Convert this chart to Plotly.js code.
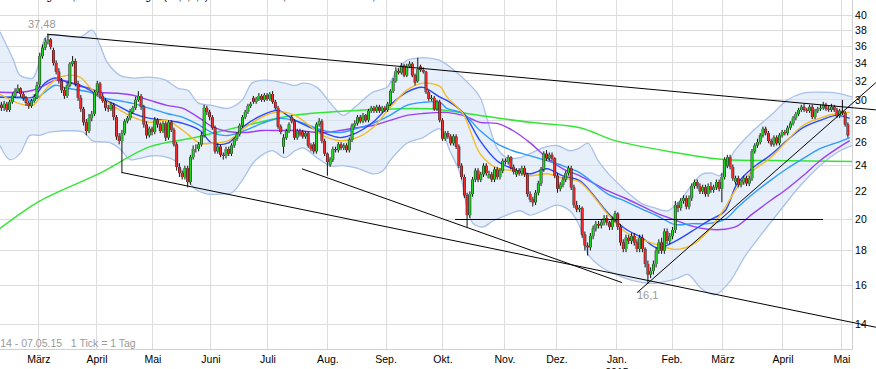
<!DOCTYPE html>
<html><head><meta charset="utf-8">
<script src="https://cdn.plot.ly/plotly-3.0.1.min.js"></script>
<style>html,body{margin:0;padding:0;background:#fff;}#chart{width:876px;height:369px;}</style>
</head><body><div id="chart"></div>
<script>
// ---------- daily candles (trading-day index 0..309) ----------
const open = [
29.5,29.2,29.6,29.0,29.8,30.4,30.9,31.2,30.6,30.2, 29.7,29.4,29.9,30.3,31.6,34.8,35.8,36.5,36.8,35.5,
34.0,33.0,32.0,31.0,30.4,31.5,33.9,34.2,31.7,30.2, 29.1,27.8,27.0,28.2,28.6,30.8,31.7,30.4,29.9,29.2,
29.1,29.5,28.3,26.5,26.1,26.8,27.9,28.2,28.8,29.2, 30.0,30.4,29.3,27.6,26.6,27.2,26.9,28.0,27.6,27.0,
27.7,26.4,27.8,27.1,25.8,23.9,23.4,23.1,23.8,22.7, 24.7,25.4,25.4,25.8,26.6,29.2,28.8,28.3,27.3,25.2,
25.6,24.9,24.8,25.4,25.0,25.7,26.3,26.7,27.5,28.3, 28.8,29.4,30.2,29.8,30.1,30.4,30.0,30.5,30.1,30.6,
29.8,29.2,27.4,25.6,26.4,27.0,28.3,27.9,26.4,27.0, 26.9,26.5,26.8,25.7,25.8,25.2,27.6,27.9,26.1,25.0,
24.1,24.5,25.4,25.3,25.8,25.5,25.7,25.3,26.2,27.5, 27.7,28.3,27.9,28.5,28.0,28.9,29.2,28.9,29.3,28.9,
29.2,29.0,29.6,30.9,32.0,33.1,32.9,33.7,32.6,33.6, 33.9,32.6,32.0,33.6,33.2,33.0,30.8,30.1,30.2,29.1,
29.8,28.0,26.3,26.8,26.5,25.9,26.5,25.6,24.0,23.1, 21.7,20.3,21.8,22.9,23.6,22.9,23.3,24.0,23.0,23.3,
22.9,23.7,23.1,23.6,24.4,24.3,24.7,23.9,23.3,23.6, 23.4,23.8,23.3,21.8,21.4,21.2,21.9,22.6,23.7,25.0,
24.6,24.9,24.6,23.2,22.2,22.5,22.9,23.4,23.8,22.3, 21.0,20.7,20.8,19.0,18.3,18.2,18.9,19.4,19.7,19.6,
19.8,20.1,19.8,19.5,20.0,20.4,19.5,18.5,18.1,18.8, 18.6,18.9,18.5,18.1,18.8,18.1,17.2,16.6,16.8,17.2,
18.0,18.5,18.0,19.2,18.6,18.9,19.3,21.0,20.8,21.3, 21.5,20.9,21.5,22.4,22.7,22.4,22.0,22.3,21.8,22.4,
22.1,22.3,22.7,22.2,23.1,24.0,24.7,23.9,22.7,23.0, 22.5,22.7,23.0,22.6,23.0,25.2,25.7,26.0,26.6,27.2,
26.8,26.1,25.8,26.4,25.9,26.6,26.9,26.8,27.3,27.7, 28.2,28.6,29.0,29.3,29.0,28.9,29.3,28.3,28.9,29.1,
29.2,29.5,29.1,29.0,29.3,29.0,28.4,28.9,28.7,27.6];
const high = [
29.8,29.9,29.8,30.0,30.7,31.2,31.6,31.3,30.8,30.4, 29.9,30.1,30.6,31.9,35.2,36.2,37.0,37.48,37.0,35.8,
34.3,33.4,32.3,31.3,31.8,34.1,34.8,34.5,32.0,30.5, 29.3,28.1,28.6,28.9,31.0,32.0,31.9,30.7,30.2,29.5,
29.8,29.7,28.5,26.8,27.1,28.1,28.4,29.1,29.4,30.3, 30.9,30.6,29.5,27.9,27.4,27.4,28.3,28.2,27.8,27.9,
27.9,28.0,28.0,27.3,26.0,24.2,23.6,24.0,24.0,24.9, 25.7,25.8,26.0,26.9,29.5,29.4,29.0,28.5,27.5,25.9,
25.8,25.1,25.6,25.6,25.9,26.4,26.9,27.7,28.5,29.0, 29.6,29.8,30.4,30.3,30.7,30.6,30.7,30.7,30.8,30.9,
30.0,29.4,27.6,26.7,27.2,27.8,28.5,28.1,27.2,27.2, 27.1,27.0,27.0,25.9,26.0,27.8,28.2,28.1,26.3,25.1,
24.7,25.6,25.6,26.0,26.0,25.9,25.9,26.4,27.7,28.0, 28.5,28.5,28.7,28.6,29.1,29.4,29.4,29.5,29.5,29.4,
29.4,29.8,31.1,32.3,33.5,33.4,34.0,33.9,33.9,34.2, 34.1,32.8,34.6,33.8,33.5,33.1,31.0,30.5,30.4,30.0,
30.0,28.2,27.0,27.0,26.7,26.7,26.7,25.8,24.2,23.3, 21.9,22.0,23.1,23.8,23.8,23.5,24.2,24.2,23.6,23.5,
23.9,23.9,23.8,24.6,24.6,24.9,24.8,24.1,23.8,23.8, 24.0,24.0,23.4,22.0,21.6,22.1,22.8,23.9,25.2,25.3,
25.1,25.1,24.7,23.4,22.7,23.1,23.6,24.0,24.0,22.5, 21.3,21.0,20.9,19.2,18.5,19.1,19.6,19.9,19.9,20.0,
20.3,20.3,19.9,20.2,20.6,20.5,19.7,18.7,19.0,19.0, 19.1,19.1,18.7,19.0,19.0,18.2,17.4,17.0,17.4,18.2,
18.7,18.8,19.4,19.4,19.1,19.5,21.3,21.2,21.5,21.7, 21.7,21.7,22.6,22.9,22.9,22.6,22.5,22.5,22.6,22.7,
22.5,22.9,22.9,23.4,24.7,24.9,24.9,24.1,23.2,23.2, 22.9,23.2,23.2,23.2,25.4,25.9,26.3,26.8,27.4,27.4,
27.0,26.3,26.6,26.6,26.8,27.1,27.1,27.5,27.9,28.4, 28.8,29.2,29.5,29.6,29.2,29.5,29.5,29.1,29.3,29.5,
29.8,29.7,29.4,29.6,29.5,29.2,29.1,30.0,28.9,27.8];
const low = [
28.9,28.9,28.8,28.8,29.6,30.2,30.7,30.3,29.9,29.4, 29.1,29.2,29.7,30.1,31.3,34.5,35.5,36.2,35.6,33.7,
32.7,31.7,30.7,30.1,30.2,31.3,33.6,31.4,29.9,28.8, 27.5,26.6,26.8,27.9,28.4,30.5,30.1,29.7,28.9,28.8,
28.9,28.0,26.2,25.8,23.4,26.6,27.7,28.0,28.6,29.0, 29.8,29.0,27.3,26.3,26.4,26.6,26.7,27.3,26.8,26.8,
26.1,26.2,26.9,25.6,23.6,23.1,22.9,22.9,22.3,22.5, 24.5,25.1,25.2,25.6,26.4,28.5,28.0,27.1,25.0,25.0,
24.7,24.5,24.6,24.8,24.8,25.5,26.1,26.5,27.3,28.1, 28.6,29.2,29.6,29.6,29.9,29.8,29.8,29.9,29.9,29.6,
29.0,27.2,26.7,25.0,26.2,26.8,27.7,26.2,26.2,26.5, 26.3,26.3,25.5,25.2,25.0,25.0,27.4,25.9,24.8,23.2,
23.9,24.3,25.1,25.1,25.3,25.3,25.1,25.1,26.0,27.3, 27.5,27.7,27.7,27.8,27.8,28.7,28.7,28.7,28.7,28.7,
28.8,28.8,29.4,30.7,31.8,32.7,32.7,32.4,32.4,33.4, 32.4,31.5,31.8,33.0,32.8,30.6,29.9,29.9,28.9,28.9,
27.8,26.1,26.1,26.3,25.7,25.7,25.4,23.8,22.9,21.5, 19.5,20.1,21.6,22.7,22.7,22.7,23.1,23.2,23.1,22.7,
22.7,22.9,22.9,23.4,24.1,24.1,23.7,23.3,23.1,23.2, 23.2,23.1,21.6,21.2,20.9,21.0,21.7,22.4,23.5,24.4,
24.4,24.4,23.0,21.9,22.0,22.3,22.7,23.2,22.1,20.8, 20.5,20.5,18.8,18.0,17.7,18.0,18.7,19.2,19.4,19.4,
19.6,19.6,19.3,19.3,19.8,19.3,18.3,17.9,17.9,18.4, 18.4,18.3,17.9,17.9,17.9,17.0,16.1,16.4,16.6,17.0,
17.8,17.8,17.8,18.4,18.4,18.7,19.1,20.5,20.6,21.1, 20.7,20.7,21.3,22.2,22.2,21.8,21.8,21.6,21.6,21.9,
21.9,22.1,22.0,21.2,22.9,23.8,23.7,22.8,22.5,22.3, 22.3,22.5,22.4,22.4,22.8,25.0,25.5,25.8,26.4,26.6,
25.9,25.6,25.6,25.7,25.7,26.4,26.6,26.6,27.1,27.5, 28.0,28.4,28.8,28.8,28.7,28.7,28.1,28.1,28.7,28.9,
29.0,28.9,28.8,28.8,28.8,28.2,28.2,28.5,27.4,26.4];
const close = [
29.2,29.6,29.0,29.8,30.4,30.9,31.2,30.6,30.2,29.7, 29.4,29.9,30.3,31.5,34.8,35.8,36.5,36.8,35.9,34.0,
33.0,32.0,31.0,30.4,31.5,33.9,34.2,31.7,30.2,29.1, 27.8,27.0,28.2,28.6,30.8,31.7,30.4,29.9,29.2,29.1,
29.5,28.3,26.5,26.1,26.8,27.9,28.2,28.8,29.2,30.0, 30.4,29.3,27.6,26.6,27.2,26.9,28.0,27.6,27.0,27.7,
26.4,27.8,27.1,25.8,23.9,23.4,23.1,23.8,22.7,24.7, 25.4,25.4,25.8,26.6,29.2,28.8,28.3,27.3,25.2,25.6,
24.9,24.8,25.4,25.0,25.7,26.3,26.7,27.5,28.3,28.8, 29.4,29.6,29.8,30.1,30.4,30.0,30.5,30.1,30.6,29.8,
29.2,27.4,26.9,26.4,27.0,27.6,27.9,26.4,27.0,26.7, 26.5,26.8,25.7,25.4,25.2,27.6,27.9,26.1,25.0,24.3,
24.5,25.4,25.3,25.8,25.5,25.7,25.3,26.2,27.5,27.7, 28.3,27.9,28.5,28.0,28.9,29.2,28.9,29.3,28.9,29.2,
29.0,29.6,30.9,32.0,33.1,32.9,33.7,32.6,33.6,33.9, 32.6,31.8,33.3,33.2,33.0,30.8,30.1,30.2,29.1,29.8,
28.0,26.3,26.8,26.5,25.9,26.5,25.6,24.0,23.1,21.7, 20.3,21.8,22.9,23.6,22.9,23.3,24.0,23.4,23.3,22.9,
23.7,23.1,23.6,24.4,24.3,24.7,23.9,23.5,23.6,23.4, 23.8,23.3,21.8,21.4,21.2,21.9,22.6,23.7,25.0,24.6,
24.9,24.6,23.2,22.2,22.5,22.9,23.4,23.8,22.3,21.0, 20.7,20.8,19.0,18.3,18.2,18.9,19.4,19.7,19.6,19.8,
20.1,19.8,19.5,20.0,20.4,19.5,18.5,18.1,18.8,18.6, 18.9,18.5,18.1,18.8,18.1,17.2,16.6,16.8,17.2,18.0,
18.5,18.0,19.2,18.6,18.9,19.3,21.0,20.8,21.3,21.5, 20.9,21.5,22.4,22.7,22.4,22.0,22.3,21.8,22.4,22.1,
22.3,22.7,22.2,23.1,24.5,24.7,23.9,23.0,23.0,22.5, 22.7,23.0,22.6,23.0,25.2,25.7,26.0,26.6,27.2,26.8,
26.1,25.8,26.4,25.9,26.6,26.9,26.8,27.3,27.7,28.2, 28.6,29.0,29.3,29.0,28.9,29.3,28.3,28.9,29.1,29.2,
29.5,29.1,29.0,29.3,29.0,28.4,28.9,28.7,27.6,26.6];

// ---------- indicator lines (day index / price) ----------
const maDays = [-0.5,6.8,11.5,15.9,19.6,24.0,28.7,32.3,36.0,42.2,48.0,54.2,60.4,66.3,72.5,76.9,82.7,88.9,95.1,101.0,
107.2,117.4,123.6,129.8,135.6,141.8,148.0,153.9,160.1,162.6,168.5,174.7,180.9,186.7,192.9,199.1,205.0,211.2,221.4,227.6,
233.8,239.6,245.9,252.1,257.9,264.1,268.5,274.3,280.5,286.7,292.6,298.8,305.0,309.7];
const maYellow = [30.57,29.6,29.45,31.0,32.07,32.6,32.4,31.3,30.3,29.15, 28.3,27.8,27.98,27.04,25.9,25.9,26.1,27.3,28.3,28.8,
28.46,26.58,26.13,26.4,27.3,29.2,31.0,31.75,31.4,30.3, 28.65,25.0,23.8,23.6,23.2,23.35,23.0,22.7,20.35,19.2,
18.7,18.35,18.07,18.35,19.2,20.8,22.25,23.6,24.6,26.1, 27.5,28.2,28.65,28.75];
const maBlue = [30.27,30.27,30.27,31.75,32.3,31.85,31.53,31.0,30.27,29.45, 28.65,28.17,27.98,27.7,27.04,25.9,25.9,27.5,28.46,28.95,
27.98,26.85,26.4,26.85,27.8,29.45,30.8,31.3,30.27,29.95, 28.75,26.13,24.41,23.75,23.35,23.75,23.19,22.8,20.45,19.4,
18.8,18.15,18.57,19.22,19.89,20.58,22.56,23.83,24.83,26.13, 27.3,27.98,28.46,28.17];
const maLightBlue = [30.27,30.2,29.95,30.8,31.53,31.2,30.99,30.8,30.27,29.95, 29.65,29.15,28.65,28.27,27.5,26.85,26.58,27.04,27.7,28.17,
27.98,27.04,26.85,27.23,27.7,28.46,29.45,29.75,29.75,29.15, 28.65,27.04,25.86,25.25,24.83,24.41,23.99,23.43,21.8,21.29,
20.72,20.23,19.66,19.72,19.72,20.0,20.79,21.8,22.8,23.75, 24.58,25.43,25.95,26.4];
const maPurple = [30.78,30.78,30.99,31.53,32.07,31.96,31.42,31.2,30.78,30.68, 30.47,29.95,29.45,29.15,28.17,27.4,26.95,26.85,27.04,27.04,
27.04,26.85,27.04,27.3,27.5,27.98,28.46,28.65,28.75,28.75, 28.46,27.8,27.7,27.04,25.95,24.66,23.75,23.19,22.03,21.51,
20.93,20.4,19.96,19.55,19.35,19.35,19.55,20.4,21.29,22.18, 23.19,24.41,25.43,26.13];
const ma200Days = [-0.5,14.1,36.0,54.2,70.7,88.9,107.2,129.8,156.4,174.7,192.9,211.2,224.0,245.9,264.1,287.8,310.5];
const ma200 = [19.4,21.3,23.4,25.6,26.4,27.5,28.5,28.95,29.1,28.46,27.8,27.3,26.13,25.1,24.5,24.41,24.35];

const bbUpperDays = [-0.5,4.2,6.8,11.5,14.1,15.9,18.8,28.7,33.1,36.0,38.6,43.3,48.0,54.2,59.7,64.5,68.1,71.8,76.9,82.7,
87.8,91.5,96.2,103.5,107.2,110.1,115.2,119.9,124.7,129.8,135.6,140.7,144.4,148.0,152.8,157.5,160.1,167.4,174.7,177.2,
180.9,184.5,189.3,192.9,197.7,202.8,207.5,211.2,214.1,217.8,221.4,225.1,228.7,233.8,238.5,243.3,248.4,252.1,255.7,259.4,
262.3,267.7,274.3,281.6,286.7,292.6,298.8,305.0,310.5];
const bbUpper = [37.8,34.5,32.6,32.3,34.5,37.0,37.4,37.1,38.0,36.1, 34.1,32.6,32.3,32.4,32.1,31.2,31.0,29.7,29.45,29.15,
29.95,31.75,32.07,31.75,31.5,31.75,31.3,29.75,28.46,29.45, 30.8,31.3,33.2,34.3,34.6,34.5,34.3,32.6,30.27,28.2,
25.5,24.66,24.66,25.0,25.5,25.7,25.25,25.5,25.9,24.41, 23.4,22.6,21.9,21.1,20.8,20.6,21.5,22.5,23.3,23.4,
23.2,25.25,27.0,28.65,29.95,30.7,30.8,30.7,30.3];
const bbLowerDays = [-0.5,3.1,6.8,10.4,14.1,17.7,29.8,33.4,39.6,43.3,47.0,50.6,54.2,58.6,63.4,67.0,70.7,75.4,80.5,84.2,
87.8,92.6,98.8,103.5,107.2,110.1,115.2,119.9,124.7,129.8,135.6,139.3,141.8,148.0,153.9,160.1,163.7,167.4,169.9,172.1,
175.8,179.4,184.5,189.3,192.9,197.7,202.8,207.5,211.2,214.1,219.2,222.9,227.6,232.3,237.5,242.2,247.0,250.6,255.7,260.5,
265.9,271.4,276.9,284.2,291.5,298.8,306.1,310.5];
const bbLower = [25.7,24.5,25.0,26.6,26.6,26.9,26.9,26.1,25.95,25.4, 24.5,24.6,24.8,24.8,24.4,23.2,22.2,21.8,21.8,21.9,
22.8,24.4,25.25,24.66,25.25,25.5,24.66,24.0,24.0,23.8, 23.35,23.6,24.4,25.9,26.4,27.2,25.25,23.4,20.9,19.75,
19.5,19.9,20.3,20.6,20.3,20.6,21.0,20.6,19.5,17.8, 17.0,16.7,16.4,16.2,16.1,16.2,16.4,16.6,15.8,15.5,
16.2,17.65,18.9,20.6,22.4,24.0,25.25,25.7];

// ---------- drawn trend lines (day index / price) ----------
const resistX = [16.7, 319.2],  resistY = [37.48, 29.0];
const supportAX = [44.0, 319.2], supportAY = [23.45, 13.88];
const supportBX = [109.7, 226.5], supportBY = [23.75, 16.15];
const level20X = [165.6, 299.9], level20Y = [20, 20];
const riseX = [232.0, 319.2],    riseY = [15.6, 31.8];
const peakLabel = {day: 17, value: 37.48};
const lowLabel = {day: 236, value: 16.1};

// ---------- axes ----------
const monthTicks = [13.7,34.9,55.3,76.5,97.3,119.2,140.4,161.2,183.8,202.8,224.7,244.8,263.4,285.3,306.8];
const monthLabels = ['März','April','Mai','Juni','Juli','Aug.','Sep.','Okt.','Nov.','Dez.','Jan.<br>2015','Feb.','März','April','Mai'];
const priceTicks = [14,16,18,20,22,24,26,28,30,32,34,36,38,40];
const periodText = '13.02.14 - 07.05.15   1 Tick = 1 Tag';
const legendText = 'GD 38 Tagen 2,383      \u25A0 Bollinger (20,2,0,0)      \u25A0 GD 38: 28,07      \u25A0 GD 50: 26,51';

const days = close.map((_, i) => i);
const W = 876, H = 369, PW = 852, PH = 349;
const xr = [-0.5, 310.5];
const scale = PW / (xr[1] - xr[0]);
const x2r = [-0.5, -0.5 + W / scale];
const yr = [Math.log10(40 * Math.exp(-(PH - 15) / 295)), Math.log10(40 * Math.exp(15 / 295))];

const line = (x, y, color, w) => ({type: 'scatter', mode: 'lines', x, y, hoverinfo: 'skip',
  line: {color, width: w, shape: 'spline', smoothing: 0.9}});
const straight = (x, y) => ({type: 'scatter', mode: 'lines', x, y, hoverinfo: 'skip',
  line: {color: '#000', width: 1}, xaxis: 'x2', yaxis: 'y2'});
// candle segments: vertical segments per day, split by colour
const segs = (sel, a, b) => {
  const x = [], y = [];
  days.forEach(i => { if (sel(i)) { x.push(i, i, null); y.push(a[i], b[i], null); } });
  return {x, y};
};
const up = i => close[i] >= open[i], down = i => close[i] < open[i], all = () => true;
const wick = segs(all, low, high);
const bodyAll = segs(all, open, close);
const bodyUp = segs(up, open, close);
const bodyDown = segs(down, open, close);
const seg = (s, color, w) => ({type: 'scatter', mode: 'lines', x: s.x, y: s.y, hoverinfo: 'skip',
  connectgaps: false, line: {color, width: w}});

const traces = [
  {type: 'scatter', mode: 'lines', hoverinfo: 'skip',
   x: bbUpperDays.concat(bbLowerDays.slice().reverse()),
   y: bbUpper.concat(bbLower.slice().reverse()),
   fill: 'toself', fillcolor: 'rgba(215,228,248,0.6)', line: {width: 0}},
  line(bbUpperDays, bbUpper, '#a9c1ea', 1.3),
  line(bbLowerDays, bbLower, '#a9c1ea', 1.3),
  line(ma200Days, ma200, '#33e633', 1.5),
  line(maDays, maPurple, '#9b3ff2', 1.4),
  line(maDays, maLightBlue, '#2e9cff', 1.4),
  line(maDays, maBlue, '#2b48ff', 1.4),
  line(maDays, maYellow, '#f4bb22', 1.4),
  seg(wick, '#111', 1),
  seg(bodyAll, '#111', 2.8),
  seg(bodyUp, '#22d622', 1.8),
  seg(bodyDown, '#f22c2c', 1.8),
  straight(resistX, resistY),
  straight(supportAX, supportAY),
  straight(supportBX, supportBY),
  straight(level20X, level20Y),
  straight(riseX, riseY)
];

const fmt = v => String(v).replace('.', ',');
const font = {family: 'Liberation Sans, Arial, sans-serif', size: 10.5, color: '#000'};
const layout = {
  width: W, height: H, margin: {l: 0, r: 0, t: 0, b: H - PH},
  paper_bgcolor: '#fff', plot_bgcolor: 'rgba(0,0,0,0)', showlegend: false,
  font,
  xaxis: {domain: [0, PW / W], range: xr, type: 'linear', tickvals: monthTicks, ticktext: monthLabels,
    showgrid: true, gridcolor: '#dcdcdc', gridwidth: 1, zeroline: false, ticks: '',
    showline: true, linecolor: '#d0d0d0', linewidth: 1, tickfont: font, fixedrange: true},
  yaxis: {type: 'log', range: yr, side: 'right', tickmode: 'array', tickvals: priceTicks, ticktext: priceTicks.map(String),
    showgrid: true, gridcolor: '#dcdcdc', gridwidth: 1, zeroline: false, ticks: '',
    showline: true, linecolor: '#d0d0d0', linewidth: 1, tickfont: font, fixedrange: true, anchor: 'x'},
  xaxis2: {domain: [0, 1], range: x2r, visible: false, anchor: 'y2', fixedrange: true},
  yaxis2: {domain: [0, 1], type: 'log', range: yr, visible: false, anchor: 'x2', fixedrange: true},
  annotations: [
    {xref: 'x', yref: 'y', x: peakLabel.day - 2, y: Math.log10(peakLabel.value), yshift: 10,
     text: fmt(peakLabel.value), showarrow: false, font: {family: font.family, size: 11, color: '#999'}},
    {xref: 'x', yref: 'y', x: lowLabel.day, y: Math.log10(lowLabel.value), yshift: -12,
     text: fmt(lowLabel.value), showarrow: false, font: {family: font.family, size: 11, color: '#999'}},
    {xref: 'paper', yref: 'paper', x: 134 / PW, y: (PH - 343) / PH, xanchor: 'right', yanchor: 'middle',
     text: periodText, showarrow: false, font: {family: font.family, size: 10.5, color: '#999'}},
    {xref: 'paper', yref: 'paper', x: 0, y: 1 + 4 / PH, xanchor: 'left', yanchor: 'middle',
     text: legendText, showarrow: false, font: {family: font.family, size: 10.5, color: '#000'}}
  ]
};
Plotly.newPlot('chart', traces, layout, {staticPlot: true, displayModeBar: false});
</script></body></html>
